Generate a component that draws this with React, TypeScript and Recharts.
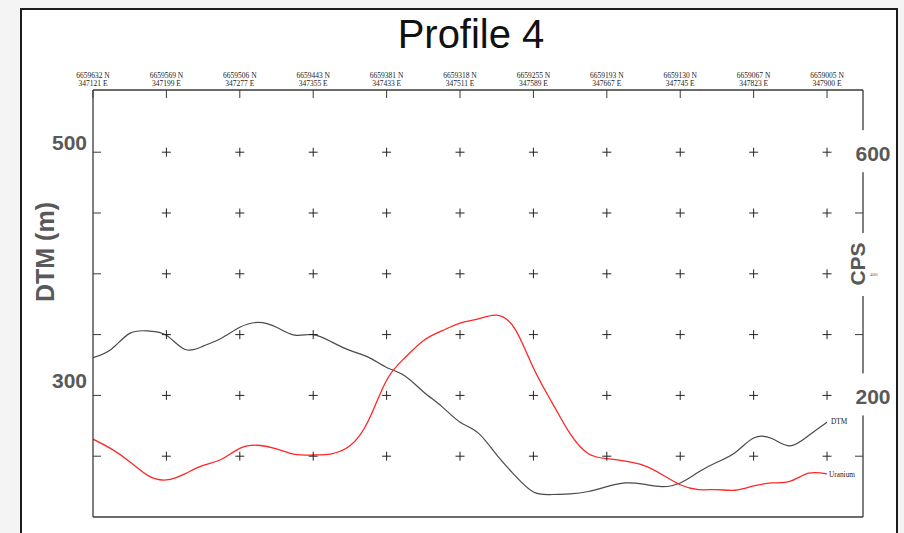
import { ComposedChart, Line, Scatter, XAxis, YAxis } from 'recharts'

// distance along the profile, metres (one top tick every 100 m)
const DIST_M = [
  0, 25, 50, 75, 100, 125, 150, 175, 200, 225, 250, 275, 300, 325, 350, 375, 400, 425, 450, 475, 500,
  525, 550, 575, 600, 625, 650, 675, 700, 725, 750, 775, 800, 825, 850, 875, 900, 925, 950, 975, 1000,
]
const DTM_M = [
  331, 338, 351, 353, 349.5, 338, 340.5, 347, 356, 360, 356, 349.5, 350, 344, 337, 331.5, 323, 316, 303,
  291, 278, 269, 251, 234, 220.5, 218.5, 219, 221, 225, 228, 227, 225, 228, 237, 245, 253, 265, 264.5,
  258.5, 267, 278,
]
const URANIUM_CPS = [
  128, 112, 91, 68, 61, 71, 85, 95, 113, 118, 112, 103, 102, 104, 117, 158, 225, 262, 290, 306, 319,
  326, 332, 309, 245, 189, 137, 104, 96, 92, 85, 70, 53, 45, 45, 44, 51, 56, 59, 72, 71,
]

const STATION_TICKS = [0, 100, 200, 300, 400, 500, 600, 700, 800, 900, 1000]
const NORTHING = [
  '6659632 N', '6659569 N', '6659506 N', '6659443 N', '6659381 N', '6659318 N',
  '6659255 N', '6659193 N', '6659130 N', '6659067 N', '6659005 N',
]
const EASTING = [
  '347121 E', '347199 E', '347277 E', '347355 E', '347433 E', '347511 E',
  '347589 E', '347667 E', '347745 E', '347823 E', '347900 E',
]
const DTM_TICKS = [250, 300, 350, 400, 450, 500]
const CPS_TICKS = [100, 200, 300, 400, 500, 600]
const DTM_LABELED = [300, 500]
const CPS_LABELED = [200, 600]

const rows = DIST_M.map((d, i) => ({ dist: d, dtm: DTM_M[i], cps: URANIUM_CPS[i] }))
const crosses = STATION_TICKS.slice(1).flatMap((d) => DTM_TICKS.map((v) => ({ dist: d, dtm: v })))

const TICK = 8
const GAP = 2
const THIN = 0.01 // axes take (almost) no room; the margins place the plot
const AXIS = '#3a3a3a'
const LABEL = '#595959'
const SANS = "'Liberation Sans', Arial, sans-serif"
const SERIF = "'Liberation Serif', 'Times New Roman', serif"

function TopTick(props: any) {
  const { x, y, payload } = props
  const i = STATION_TICKS.indexOf(payload.value)
  const axisY = y - TICK - GAP
  return (
    <g fontFamily={SERIF} fontSize={7.5} fill="#222" textAnchor="middle">
      <text x={x} y={axisY - 12}>{NORTHING[i]}</text>
      <text x={x} y={axisY - 4}>{EASTING[i]}</text>
    </g>
  )
}

function DtmTick(props: any) {
  const { x, y, payload } = props
  if (!DTM_LABELED.includes(payload.value)) return <g />
  const axisX = x - TICK - GAP
  return (
    <text
      x={axisX - 6}
      y={y + (payload.value === 500 ? -10 : -15)}
      textAnchor="end"
      dominantBaseline="central"
      fontFamily={SANS}
      fontWeight="bold"
      fontSize={21}
      fill={LABEL}
    >
      {payload.value}
    </text>
  )
}

function CpsTick(props: any) {
  const { x, y, payload } = props
  const v = payload.value
  const axisX = x + TICK + GAP
  if (CPS_LABELED.includes(v)) {
    return (
      <g>
        <rect x={axisX - 9} y={y - 22} width={38} height={42} fill="#fff" />
        <text
          x={axisX + 10}
          y={y + 1}
          textAnchor="middle"
          dominantBaseline="central"
          fontFamily={SANS}
          fontWeight="bold"
          fontSize={21}
          fill={LABEL}
        >
          {v}
        </text>
      </g>
    )
  }
  if (v === 400) {
    return (
      <text x={axisX + 7} y={y + 2} fontFamily={SERIF} fontSize={5} fill="#555">
        {v}
      </text>
    )
  }
  return <g />
}

const Cross = (p: any) => (
  <g stroke="#222" strokeWidth={1}>
    <line x1={p.cx - 4.5} x2={p.cx + 4.5} y1={p.cy} y2={p.cy} />
    <line x1={p.cx} x2={p.cx} y1={p.cy - 4.5} y2={p.cy + 4.5} />
  </g>
)

const endLabel = (text: string, dx: number, dy: number) => (props: any) => {
  if (props.index !== DIST_M.length - 1) return <g />
  const x = props.x ?? props.viewBox?.x
  const y = props.y ?? props.viewBox?.y
  return (
    <text x={x + dx} y={y + dy} fontFamily={SERIF} fontSize={7.3} fill="#222">
      {text}
    </text>
  )
}

export default function App() {
  return (
    <div style={{ position: 'absolute', left: 0, top: 0, width: 904, height: 533, overflow: 'hidden', background: '#f4f4f4' }}>
      {/* outer frame */}
      <div
        style={{
          position: 'absolute',
          left: 20,
          top: 8,
          width: 878,
          height: 600,
          boxSizing: 'border-box',
          border: '2px solid #1c1c1c',
          background: '#fff',
        }}
      />
      <svg width={904} height={60} style={{ position: 'absolute', left: 0, top: 0 }}>
        <text x={471} y={48} textAnchor="middle" fontFamily={SANS} fontSize={40} fill="#111">
          Profile 4
        </text>
      </svg>
      <div style={{ position: 'absolute', left: 0, top: 0 }}>
        <ComposedChart width={904} height={533} data={rows} margin={{ top: 90, right: 41, bottom: 16, left: 93 }}>
          <XAxis
            xAxisId="b"
            dataKey="dist"
            type="number"
            domain={[0, 1049]}
            allowDataOverflow
            ticks={STATION_TICKS.slice(1)}
            height={THIN}
            mirror
            tickSize={TICK}
            tickMargin={GAP}
            tick={false}
            stroke={AXIS}
            axisLine={{ stroke: AXIS, strokeWidth: 1.3 }}
          />
          <XAxis
            xAxisId="t"
            orientation="top"
            dataKey="dist"
            type="number"
            domain={[0, 1049]}
            allowDataOverflow
            ticks={STATION_TICKS}
            height={THIN}
            mirror
            tickSize={TICK}
            tickMargin={GAP}
            tick={<TopTick />}
            stroke={AXIS}
            axisLine={{ stroke: AXIS, strokeWidth: 1.3 }}
          />
          <YAxis
            yAxisId="dtm"
            dataKey="dtm"
            type="number"
            domain={[200, 551.15]}
            allowDataOverflow
            ticks={DTM_TICKS}
            width={THIN}
            mirror
            tickSize={TICK}
            tickMargin={GAP}
            tick={<DtmTick />}
            stroke={AXIS}
            axisLine={{ stroke: AXIS, strokeWidth: 1.3 }}
            label={(p: any) => {
              const vb = p.viewBox
              const cx = vb.x - 48
              const cy = vb.y + 162
              return (
                <text
                  x={cx}
                  y={cy}
                  transform={`rotate(-90 ${cx} ${cy})`}
                  textAnchor="middle"
                  dominantBaseline="central"
                  fontFamily={SANS}
                  fontWeight="bold"
                  fontSize={25}
                  fill={LABEL}
                >
                  DTM (m)
                </text>
              )
            }}
          />
          <YAxis
            yAxisId="cps"
            orientation="right"
            dataKey="cps"
            type="number"
            domain={[0, 702.3]}
            allowDataOverflow
            ticks={CPS_TICKS}
            width={THIN}
            mirror
            tickSize={TICK}
            tickMargin={GAP}
            tick={<CpsTick />}
            stroke={AXIS}
            axisLine={{ stroke: AXIS, strokeWidth: 1.3 }}
            label={(p: any) => {
              const vb = p.viewBox
              const cx = vb.x - 5
              const cy = vb.y + 174
              return (
                <g>
                  <rect x={cx - 10} y={cy - 31} width={20} height={63} fill="#fff" />
                  <text
                    x={cx}
                    y={cy}
                    transform={`rotate(-90 ${cx} ${cy})`}
                    textAnchor="middle"
                    dominantBaseline="central"
                    fontFamily={SANS}
                    fontWeight="bold"
                    fontSize={21}
                    fill={LABEL}
                  >
                    CPS
                  </text>
                </g>
              )
            }}
          />
          <Scatter
            xAxisId="t"
            yAxisId="dtm"
            data={crosses}
            dataKey="dtm"
            shape={Cross}
            isAnimationActive={false}
          />
          <Line
            xAxisId="b"
            yAxisId="dtm"
            dataKey="dtm"
            type="natural"
            stroke="#4a4a4a"
            strokeWidth={1.2}
            dot={false}
            activeDot={false}
            isAnimationActive={false}
            label={endLabel('DTM', 4, 1.5)}
          />
          <Line
            xAxisId="b"
            yAxisId="cps"
            dataKey="cps"
            type="natural"
            stroke="#ff2626"
            strokeWidth={1.3}
            dot={false}
            activeDot={false}
            isAnimationActive={false}
            label={endLabel('Uranium', 2, 3)}
          />
        </ComposedChart>
      </div>
    </div>
  )
}
